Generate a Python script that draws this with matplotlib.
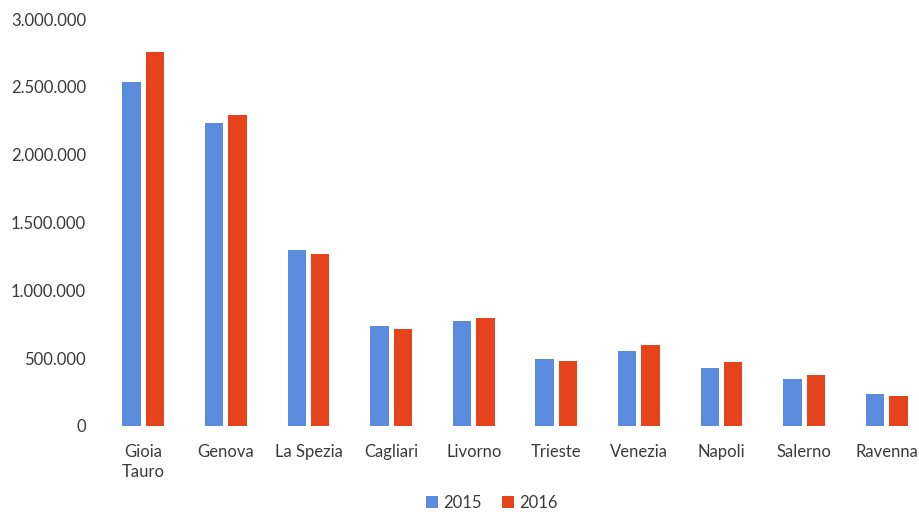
import matplotlib
matplotlib.use("Agg")
import matplotlib.pyplot as plt
import numpy as np
from matplotlib.ticker import FuncFormatter, MultipleLocator

ports = ["Gioia\nTauro", "Genova", "La Spezia", "Cagliari", "Livorno",
         "Trieste", "Venezia", "Napoli", "Salerno", "Ravenna"]
years = ["2015", "2016"]
v2015 = [2539000, 2237000, 1296000, 740000, 774000, 494000, 553000, 430000, 349000, 234000]
v2016 = [2756000, 2291000, 1268000, 715000, 794000, 479000, 600000, 474000, 378000, 223000]

c2015 = "#5B8BDD"
c2016 = "#E5431C"
txt = "#3a3a3a"

plt.rcParams['font.family'] = ['Lato', 'DejaVu Sans']

fig = plt.figure(figsize=(9.2, 5.12), dpi=100)
ax = fig.add_axes([102/920, 86/512, 826/920, 406.8/512])

x = np.arange(len(ports))
w = 0.224
off = 0.142
ax.bar(x - off, v2015, width=w, color=c2015, label=years[0])
ax.bar(x + off, v2016, width=w, color=c2016, label=years[1])

ax.set_xlim(-0.5, len(ports) - 0.5)
ax.set_ylim(0, 3000000)
ax.yaxis.set_major_locator(MultipleLocator(500000))
ax.yaxis.set_major_formatter(FuncFormatter(lambda v, p: f"{int(v):,}".replace(",", ".")))
ax.set_xticks(x)
ax.set_xticklabels(ports, va="top", linespacing=1.3)
for s in ax.spines.values():
    s.set_visible(False)
ax.tick_params(axis="y", length=0, pad=11.5, labelsize=12, labelcolor=txt)
ax.tick_params(axis="x", length=0, pad=13, labelsize=12, labelcolor=txt)

leg = fig.legend(loc="center", bbox_to_anchor=(492/920, 1 - 503/512), ncol=2,
                 frameon=False, fontsize=12, handlelength=0.7, handleheight=0.7,
                 handletextpad=0.35, columnspacing=1.2)
for t in leg.get_texts():
    t.set_color(txt)

fig.savefig("out.png", dpi=100, facecolor="white")
